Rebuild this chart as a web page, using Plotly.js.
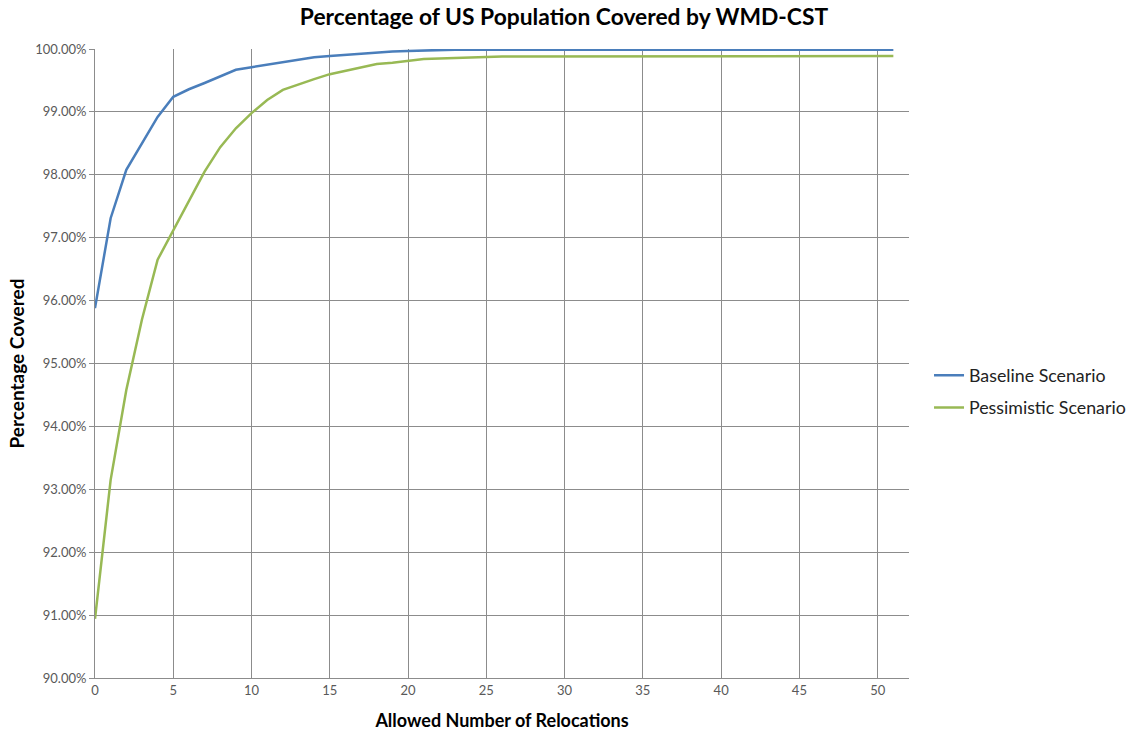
<!DOCTYPE html>
<html>
<head>
<meta charset="utf-8">
<script src="https://cdn.plot.ly/plotly-3.0.1.min.js"></script>
<style>html,body{margin:0;padding:0;background:#fff;}#chart{width:1128px;height:733px;}</style>
</head>
<body>
<div id="chart"></div>
<script>
const relocations = Array.from({length: 52}, (_, i) => i);
const baseline = [
  95.88, 97.31, 98.08, 98.50, 98.92, 99.24, 99.36, 99.46, 99.56, 99.67,
  99.71, 99.75, 99.79, 99.83, 99.87, 99.89, 99.91, 99.93, 99.95, 99.96,
  99.97, 99.98, 99.98, 99.99, 99.99, 99.99, 99.99, 99.99, 99.99, 99.99,
  99.99, 99.99, 99.99, 99.99, 99.99, 99.99, 99.99, 99.99, 99.99, 99.99,
  99.99, 99.99, 99.99, 99.99, 99.99, 99.99, 99.99, 99.99, 99.99, 99.99,
  99.99, 99.99
];
const pessimistic = [
  90.94, 93.15, 94.58, 95.70, 96.65, 97.12, 97.60, 98.05, 98.44, 98.74,
  98.98, 99.19, 99.35, 99.44, 99.52, 99.60, 99.65, 99.70, 99.76, 99.78,
  99.81, 99.84, 99.85, 99.86, 99.87, 99.87, 99.88, 99.88, 99.88, 99.89,
  99.89, 99.89, 99.89, 99.89, 99.89, 99.89, 99.89, 99.89, 99.89, 99.89,
  99.89, 99.89, 99.89, 99.89, 99.89, 99.89, 99.89, 99.89, 99.89, 99.89,
  99.89, 99.89
];
const seriesNames = ['Baseline Scenario', 'Pessimistic Scenario'];
const xTicks = [0, 5, 10, 15, 20, 25, 30, 35, 40, 45, 50];
const yTicks = [90, 91, 92, 93, 94, 95, 96, 97, 98, 99, 100];
const yTickLabels = ['90.00%', '91.00%', '92.00%', '93.00%', '94.00%', '95.00%',
                     '96.00%', '97.00%', '98.00%', '99.00%', '100.00%'];

const traces = [
  {x: relocations, y: baseline, name: seriesNames[0], legendgroup: 'g1', type: 'scatter', mode: 'lines',
   line: {color: '#4a7ebb', width: 2.5}},
  {x: relocations, y: pessimistic, name: seriesNames[1], legendgroup: 'g2', type: 'scatter', mode: 'lines',
   line: {color: '#98b954', width: 2.5}}
];

const layout = {
  width: 1128, height: 733,
  margin: {l: 95, r: 219, t: 49, b: 55},
  paper_bgcolor: '#fff', plot_bgcolor: '#fff',
  font: {family: 'Lato, "Open Sans", sans-serif', color: '#595959', size: 13},
  title: {text: 'Percentage of US Population Covered by WMD-CST',
          font: {family: 'Lato, "Open Sans", sans-serif', size: 22.8, color: '#000', weight: 'bold'},
          x: 0.5, xanchor: 'center', y: 0.977, yanchor: 'middle', xref: 'container'},
  xaxis: {
    range: [0, 52], tickvals: xTicks, ticktext: xTicks.map(String),
    showgrid: true, gridcolor: '#8c8c8c', gridwidth: 1,
    showline: true, linecolor: '#8c8c8c', linewidth: 1,
    zeroline: false, ticks: '', ticklen: 0,
    tickfont: {size: 13, color: '#595959'},
    title: {text: 'Allowed Number of Relocations', standoff: 17,
            font: {size: 18, color: '#000', weight: 'bold'}}
  },
  yaxis: {
    range: [90, 100], tickvals: yTicks, ticktext: yTickLabels,
    showgrid: true, gridcolor: '#8c8c8c', gridwidth: 1,
    showline: true, linecolor: '#8c8c8c', linewidth: 1,
    zeroline: false, ticks: 'outside', ticklen: 5, tickcolor: '#8c8c8c',
    tickfont: {size: 13, color: '#595959'},
    title: {text: 'Percentage Covered', standoff: 5,
            font: {size: 19, color: '#000', weight: 'bold'}}
  },
  legend: {xref: 'container', x: 0.8236, xanchor: 'left', y: 0.455, yanchor: 'middle',
           font: {size: 17.8, color: '#222'}, itemwidth: 30,
           traceorder: 'grouped', tracegroupgap: 6,
           bgcolor: 'rgba(0,0,0,0)'},
  showlegend: true
};

Plotly.newPlot('chart', traces, layout, {displayModeBar: false, staticPlot: true});
</script>
</body>
</html>
